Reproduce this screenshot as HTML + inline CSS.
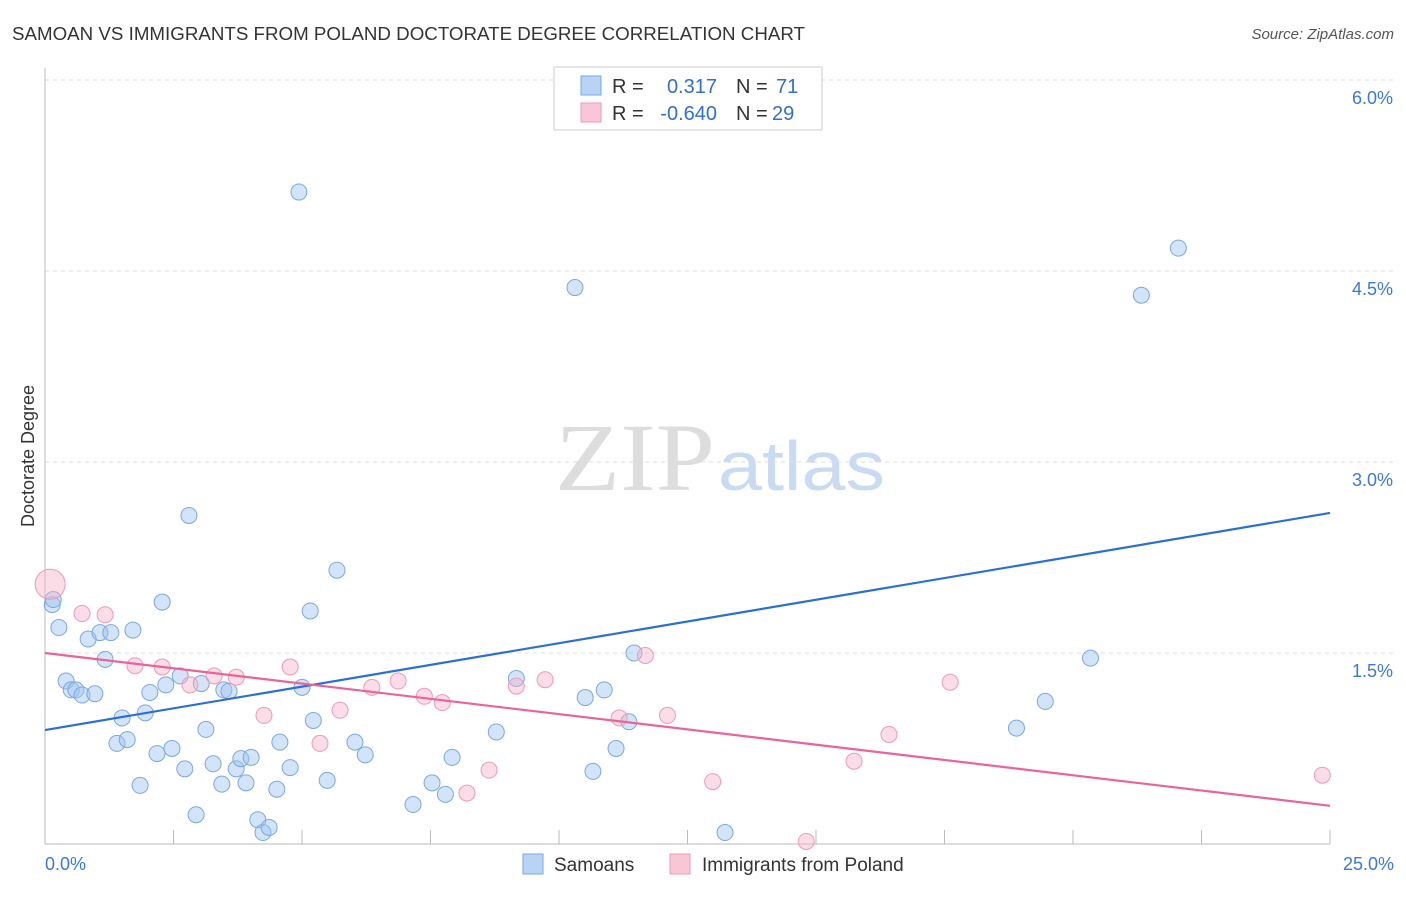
<!DOCTYPE html>
<html><head><meta charset="utf-8"><style>
body{margin:0;background:#fff;font-family:"Liberation Sans",sans-serif}
svg text{font-family:"Liberation Sans",sans-serif}
</style></head><body>
<svg id="c" width="1406" height="892">
<text x="12" y="40" font-size="18" fill="#333" textLength="793" lengthAdjust="spacingAndGlyphs">SAMOAN VS IMMIGRANTS FROM POLAND DOCTORATE DEGREE CORRELATION CHART</text>
<text x="1394" y="39" font-size="15" fill="#555" font-style="italic" text-anchor="end">Source: ZipAtlas.com</text>
<text x="34" y="456" font-size="18" fill="#333" transform="rotate(-90 34 456)" text-anchor="middle">Doctorate Degree</text>
<text x="555" y="490" font-size="96" fill="#ddd" style="font-family:'Liberation Serif',serif" textLength="160" lengthAdjust="spacingAndGlyphs">ZIP</text>
<text x="718" y="490" font-size="70" fill="#c9daf3" textLength="167" lengthAdjust="spacingAndGlyphs">atlas</text>
<g id="grid"></g><g id="pts"></g><g id="lines"></g>
<rect x="554" y="67" width="268" height="63" fill="#fff" stroke="#ccc"/>
<rect x="581" y="76" width="20" height="19" fill="#b8d3f5" stroke="#7aa8e0"/>
<rect x="581" y="103" width="20" height="19" fill="#f9c6d6" stroke="#ee9ab5"/>
<g font-size="20">
<text x="612" y="93" fill="#333">R =</text><text x="717" y="93" fill="#2f6fd4" text-anchor="end">0.317</text><text x="736" y="93" fill="#333">N =</text><text x="776" y="93" fill="#2f6fd4">71</text>
<text x="612" y="120" fill="#333">R =</text><text x="717" y="120" fill="#2f6fd4" text-anchor="end">-0.640</text><text x="736" y="120" fill="#333">N =</text><text x="772" y="120" fill="#2f6fd4">29</text>
</g>
<rect x="523" y="854" width="20" height="20" fill="#b8d3f5" stroke="#7aa8e0"/>
<text x="554" y="871" font-size="19" fill="#333">Samoans</text>
<rect x="670" y="854" width="20" height="20" fill="#f9c6d6" stroke="#ee9ab5"/>
<text x="702" y="871" font-size="19" fill="#333">Immigrants from Poland</text>
</svg>
<script>
const blueX=[0.14,0.16,0.27,0.41,0.51,0.60,0.72,0.84,0.97,1.07,1.17,1.28,1.40,1.50,1.60,1.71,1.85,1.95,2.04,2.18,2.28,2.35,2.47,2.63,2.72,2.80,2.94,3.04,3.13,3.27,3.44,3.48,3.58,3.72,3.81,3.91,4.01,4.14,4.24,4.36,4.51,4.57,4.77,4.94,5.00,5.16,5.22,5.49,5.68,6.03,6.23,7.16,7.53,7.79,7.92,8.78,9.17,10.31,10.51,10.66,10.88,11.11,11.36,11.46,13.23,18.90,19.46,20.34,21.33,22.05];
const blueY=[1.88,1.92,1.70,1.28,1.21,1.21,1.17,1.61,1.18,1.66,1.45,1.66,0.79,0.99,0.82,1.68,0.46,1.03,1.19,0.71,1.90,1.25,0.75,1.32,0.59,2.58,0.23,1.26,0.90,0.63,0.47,1.21,1.20,0.59,0.67,0.48,0.68,0.19,0.09,0.13,0.43,0.80,0.60,5.12,1.23,1.83,0.97,0.50,2.15,0.80,0.70,0.31,0.48,0.39,0.68,0.88,1.30,4.37,1.15,0.57,1.21,0.75,0.96,1.50,0.09,0.91,1.12,1.46,4.31,4.68];
const pinkX=[0.10,0.72,1.17,1.75,2.28,2.82,3.29,3.72,4.26,4.77,5.35,5.74,6.36,6.87,7.38,7.73,8.21,8.64,9.17,9.73,11.17,11.68,12.11,12.99,14.81,15.74,16.42,17.61,24.85];
const pinkY=[2.04,1.81,1.80,1.40,1.39,1.25,1.32,1.31,1.01,1.39,0.79,1.05,1.23,1.28,1.16,1.11,0.40,0.58,1.24,1.29,0.99,1.48,1.01,0.49,0.02,0.65,0.86,1.27,0.54];
const blueTrend=[0.895,2.60];
const pinkTrend=[1.50,0.30];
const yTicks=[1.5,3.0,4.5,6.0];
const yTickLabels=["1.5%","3.0%","4.5%","6.0%"];
const xS=v=>45+v/25*1285, yS=v=>844-v/1.5*191;
const NS="http://www.w3.org/2000/svg";
function mk(p,t,a){const e=document.createElementNS(NS,t);for(const k in a)e.setAttribute(k,a[k]);p.appendChild(e);return e;}
const g=document.getElementById('grid'),P=document.getElementById('pts'),L=document.getElementById('lines');
yTicks.forEach((t,i)=>{
 const l=mk(g,'line',{x1:45,x2:1394,y1:yS(t),y2:yS(t),stroke:'#ddd','stroke-dasharray':'4,4'});
 
 
 const tx=mk(g,'text',{x:1393,y:yS(t)+24,'font-size':18,fill:'#3b78d8','text-anchor':'end'});tx.textContent=yTickLabels[i];
 
 
});
const ax=mk(g,'line',{x1:45,x2:45,y1:68,y2:844,stroke:'#bbb'});


const bx=mk(g,'line',{x1:45,x2:1330,y1:844,y2:844,stroke:'#bbb'});


for(let i=1;i<=10;i++){const t=mk(g,'line',{x1:xS(i*2.5),x2:xS(i*2.5),y1:830,y2:844,stroke:'#bbb'});
 
 }
[["0.0%",45,'start'],["25.0%",1394,'end']].forEach(a=>{const t=mk(g,'text',{x:a[1],y:870,'font-size':18,fill:'#3b78d8','text-anchor':a[2]});t.textContent=a[0];
 
 });
blueX.forEach((x,i)=>{const c=mk(P,'circle',{cx:xS(x),cy:yS(blueY[i]),r:8,fill:'rgba(160,195,240,0.45)',stroke:'#7aa8e0','stroke-width':1});
 
 });
pinkX.forEach((x,i)=>{const c=mk(P,'circle',{cx:xS(x),cy:yS(pinkY[i]),r:i==0?15:8,fill:'rgba(245,180,200,0.45)',stroke:'#ee9ab5','stroke-width':1});
 
 });
const b=mk(L,'line',{x1:xS(0),y1:yS(blueTrend[0]),x2:xS(25),y2:yS(blueTrend[1]),stroke:'#2a6fd6','stroke-width':2.2});


const p=mk(L,'line',{x1:xS(0),y1:yS(pinkTrend[0]),x2:xS(25),y2:yS(pinkTrend[1]),stroke:'#e8649a','stroke-width':2.2});


</script>
</body></html>
